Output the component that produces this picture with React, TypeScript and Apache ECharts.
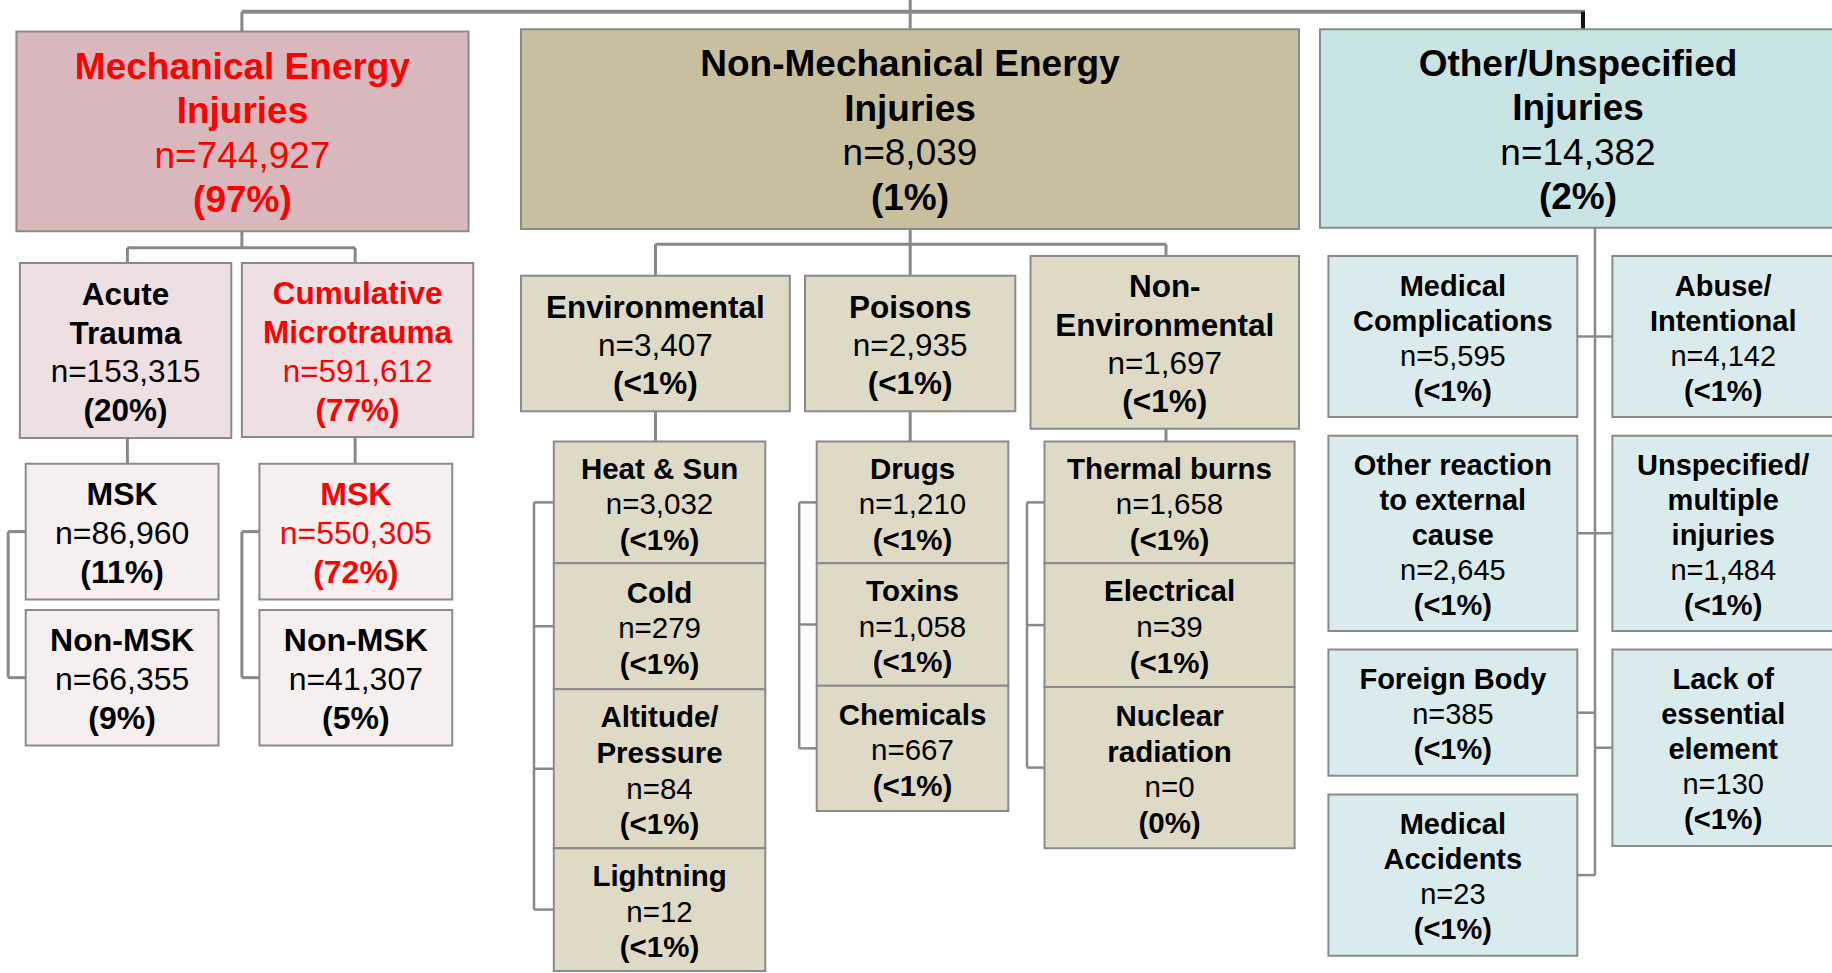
import React, { useEffect, useRef } from "react";
import * as echarts from "echarts";

// ---------------- DATA ----------------
const topLabels = ["Mechanical Energy\nInjuries", "Non-Mechanical Energy\nInjuries", "Other/Unspecified\nInjuries"];
const topCounts = [744927, 8039, 14382];
const topPcts = ["97%", "1%", "2%"];

const mechLabels = ["Acute\nTrauma", "Cumulative\nMicrotrauma"];
const mechCounts = [153315, 591612];
const mechPcts = ["20%", "77%"];

const acuteLabels = ["MSK", "Non-MSK"];
const acuteCounts = [86960, 66355];
const acutePcts = ["11%", "9%"];

const cumLabels = ["MSK", "Non-MSK"];
const cumCounts = [550305, 41307];
const cumPcts = ["72%", "5%"];

const nonMechLabels = ["Environmental", "Poisons", "Non-\nEnvironmental"];
const nonMechCounts = [3407, 2935, 1697];
const nonMechPcts = ["<1%", "<1%", "<1%"];

const envLabels = ["Heat & Sun", "Cold", "Altitude/\nPressure", "Lightning"];
const envCounts = [3032, 279, 84, 12];
const envPcts = ["<1%", "<1%", "<1%", "<1%"];

const poisonLabels = ["Drugs", "Toxins", "Chemicals"];
const poisonCounts = [1210, 1058, 667];
const poisonPcts = ["<1%", "<1%", "<1%"];

const nonEnvLabels = ["Thermal burns", "Electrical", "Nuclear\nradiation"];
const nonEnvCounts = [1658, 39, 0];
const nonEnvPcts = ["<1%", "<1%", "0%"];

const otherLabels = [
  "Medical\nComplications",
  "Abuse/\nIntentional",
  "Other reaction\nto external\ncause",
  "Unspecified/\nmultiple\ninjuries",
  "Foreign Body",
  "Lack of\nessential\nelement",
  "Medical\nAccidents",
];
const otherCounts = [5595, 4142, 2645, 1484, 385, 130, 23];
const otherPcts = ["<1%", "<1%", "<1%", "<1%", "<1%", "<1%", "<1%"];

// ---------------- LAYOUT (geometry, px) ----------------
type Box = [number, number, number, number];
const topBoxes: Box[] = [
  [16.4, 31.5, 468.5, 231.3],
  [521, 29.2, 1299, 229],
  [1320, 29.2, 1836, 227.8],
];
const mechBoxes: Box[] = [
  [19.9, 262.9, 231.3, 438],
  [241.9, 262.9, 473.2, 437],
];
const acuteBoxes: Box[] = [
  [25.7, 463.8, 218.5, 599.4],
  [25.7, 609.9, 218.5, 745.4],
];
const cumBoxes: Box[] = [
  [259.4, 463.8, 452.2, 599.4],
  [259.4, 609.9, 452.2, 745.4],
];
const nonMechBoxes: Box[] = [
  [521, 275.7, 789.8, 411.3],
  [805, 275.7, 1015.3, 411.3],
  [1030.5, 255.9, 1299, 428.8],
];
const envX = [553.8, 765.3];
const envY = [441.6, 563.2, 689.3, 848.2, 971];
const poisonX = [816.7, 1008.3];
const poisonY = [441.6, 563.2, 685.8, 810.9];
const nonEnvX = [1044.5, 1294.6];
const nonEnvY = [441.6, 563.2, 687, 848.2];
const otherBoxes: Box[] = [
  [1328.4, 255.9, 1577.3, 417.1],
  [1612.4, 255.9, 1834, 417.1],
  [1328.4, 435.8, 1577.3, 630.9],
  [1612.4, 435.8, 1834, 630.9],
  [1328.4, 649.6, 1577.3, 775.8],
  [1612.4, 649.6, 1834, 845.9],
  [1328.4, 794.5, 1577.3, 955.7],
];

const stackBoxes = (xs: number[], ys: number[]): Box[] =>
  ys.slice(0, -1).map((y, i) => [xs[0], y, xs[1], ys[i + 1]] as Box);

// ---------------- STYLES ----------------
const FONT = '"Liberation Sans", Arial, Helvetica, sans-serif';
const LINE = "#888888";
const BORDER = "#8a8a8a";
const RED = "#ff0000";
const C = {
  mechTop: "#d9b8bd",
  mechMid: "#eedfe2",
  mechLeaf: "#f6eff0",
  nmTop: "#c8bf9e",
  nmMid: "#dfdac6",
  otTop: "#c8e4e4",
  otMid: "#daebed",
};

const fmt = (n: number) => n.toLocaleString("en-US");

function node(
  box: Box,
  label: string,
  count: number,
  pct: string,
  fontSize: number,
  lineH: number,
  fill: string,
  color: string,
  dy = 1.5
): any[] {
  const [x0, y0, x1, y1] = box;
  const els: any[] = [
    {
      type: "rect",
      shape: { x: x0, y: y0, width: x1 - x0, height: y1 - y0 },
      style: { fill, stroke: BORDER, lineWidth: 2 },
      z: 10,
    },
  ];
  const lines: { t: string; w: string }[] = [
    ...label.split("\n").map((t) => ({ t, w: "bold" })),
    { t: "n=" + fmt(count), w: "normal" },
    { t: "(" + pct + ")", w: "bold" },
  ];
  const cx = (x0 + x1) / 2;
  const cy = (y0 + y1) / 2 + dy;
  lines.forEach((ln, i) => {
    els.push({
      type: "text",
      x: cx,
      y: cy + (i - (lines.length - 1) / 2) * lineH,
      z: 20,
      style: {
        text: ln.t,
        fill: color,
        fontFamily: FONT,
        fontSize,
        fontWeight: ln.w,
        align: "center",
        verticalAlign: "middle",
      },
    });
  });
  return els;
}

const seg = (x1: number, y1: number, x2: number, y2: number, w = 2.5, stroke = LINE) => ({
  type: "line",
  shape: { x1, y1, x2, y2 },
  style: { stroke, lineWidth: w },
  z: 5,
});

const mid = (b: Box) => (b[1] + b[3]) / 2;

function bracket(x: number, boxes: Box[], w = 2.5): any[] {
  const ys = boxes.map(mid);
  const els: any[] = [seg(x, ys[0], x, ys[ys.length - 1], w)];
  ys.forEach((y, i) => els.push(seg(x, y, boxes[i][0], y, w)));
  return els;
}

function buildElements(): any[] {
  const els: any[] = [];
  const envBoxes = stackBoxes(envX, envY);
  const poisonBoxes = stackBoxes(poisonX, poisonY);
  const nonEnvBoxes = stackBoxes(nonEnvX, nonEnvY);

  // top connectors
  els.push(seg(241.9, 11.7, 1585, 11.7, 4));
  els.push(seg(241.9, 11.7, 241.9, topBoxes[0][1], 3));
  els.push(seg(910.2, 0, 910.2, topBoxes[1][1], 3));
  els.push(seg(1583, 11.7, 1583, topBoxes[2][1], 4, "#111111"));

  // mechanical connectors
  const mx = [(mechBoxes[0][0] + mechBoxes[0][2]) / 2 + 1.8, (mechBoxes[1][0] + mechBoxes[1][2]) / 2 - 2.4];
  const myH = 247.7;
  els.push(seg(241.9, topBoxes[0][3], 241.9, myH, 3));
  els.push(seg(mx[0], myH, mx[1], myH, 3));
  els.push(seg(mx[0], myH, mx[0], mechBoxes[0][1], 3));
  els.push(seg(mx[1], myH, mx[1], mechBoxes[1][1], 3));
  els.push(seg(mx[0], mechBoxes[0][3], mx[0], acuteBoxes[0][1], 3));
  els.push(seg(mx[1], mechBoxes[1][3], mx[1], cumBoxes[0][1], 3));
  els.push(...bracket(8.2, acuteBoxes, 3));
  els.push(...bracket(241.9, cumBoxes, 3));

  // non-mechanical connectors
  const nx = [655.5, 910.2, 1166];
  const nyH = 244.2;
  els.push(seg(910.2, topBoxes[1][3], 910.2, nyH, 3));
  els.push(seg(nx[0], nyH, nx[2], nyH, 3));
  nx.forEach((x, i) => {
    els.push(seg(x, nyH, x, nonMechBoxes[i][1], 3));
  });
  els.push(seg(nx[0], nonMechBoxes[0][3], nx[0], envY[0], 3));
  els.push(seg(nx[1], nonMechBoxes[1][3], nx[1], poisonY[0], 3));
  els.push(seg(nx[2], nonMechBoxes[2][3], nx[2], nonEnvY[0], 3));
  els.push(...bracket(534, envBoxes, 2.5));
  els.push(...bracket(799.2, poisonBoxes, 2.5));
  els.push(...bracket(1027, nonEnvBoxes, 2.5));

  // other connectors
  const sx = 1595;
  els.push(seg(sx, topBoxes[2][3], sx, mid(otherBoxes[6]), 2.5));
  els.push(seg(otherBoxes[0][2], mid(otherBoxes[0]), otherBoxes[1][0], mid(otherBoxes[0]), 2.5));
  els.push(seg(otherBoxes[2][2], mid(otherBoxes[2]), otherBoxes[3][0], mid(otherBoxes[2]), 2.5));
  els.push(seg(otherBoxes[4][2], mid(otherBoxes[4]), sx, mid(otherBoxes[4]), 2.5));
  els.push(seg(sx, mid(otherBoxes[5]), otherBoxes[5][0], mid(otherBoxes[5]), 2.5));
  els.push(seg(otherBoxes[6][2], mid(otherBoxes[6]), sx, mid(otherBoxes[6]), 2.5));

  // top nodes
  const topFill = [C.mechTop, C.nmTop, C.otTop];
  const topColor = [RED, "#000000", "#000000"];
  topLabels.forEach((l, i) => els.push(...node(topBoxes[i], l, topCounts[i], topPcts[i], 37, 44.5, topFill[i], topColor[i])));

  // mechanical
  const mechColor = ["#000000", RED];
  mechLabels.forEach((l, i) => els.push(...node(mechBoxes[i], l, mechCounts[i], mechPcts[i], 31.5, 38.8, C.mechMid, mechColor[i])));
  acuteLabels.forEach((l, i) => els.push(...node(acuteBoxes[i], l, acuteCounts[i], acutePcts[i], 32, 39, C.mechLeaf, "#000000")));
  const cumColor = [RED, "#000000"];
  cumLabels.forEach((l, i) => els.push(...node(cumBoxes[i], l, cumCounts[i], cumPcts[i], 32, 39, C.mechLeaf, cumColor[i])));

  // non-mechanical
  nonMechLabels.forEach((l, i) => els.push(...node(nonMechBoxes[i], l, nonMechCounts[i], nonMechPcts[i], 31.5, 38.3, C.nmMid, "#000000")));
  envLabels.forEach((l, i) => els.push(...node(envBoxes[i], l, envCounts[i], envPcts[i], 29.5, 35.7, C.nmMid, "#000000")));
  poisonLabels.forEach((l, i) => els.push(...node(poisonBoxes[i], l, poisonCounts[i], poisonPcts[i], 29.5, 35.7, C.nmMid, "#000000")));
  nonEnvLabels.forEach((l, i) => els.push(...node(nonEnvBoxes[i], l, nonEnvCounts[i], nonEnvPcts[i], 29.5, 35.7, C.nmMid, "#000000")));

  // other
  otherLabels.forEach((l, i) => els.push(...node(otherBoxes[i], l, otherCounts[i], otherPcts[i], 29, 35, C.otMid, "#000000")));

  return els;
}

export default function App() {
  const ref = useRef<HTMLDivElement>(null);
  useEffect(() => {
    document.body.style.margin = "0";
    if (!ref.current) return;
    const chart = echarts.init(ref.current, undefined, { renderer: "svg" });
    chart.setOption({
      animation: false,
      backgroundColor: "#ffffff",
      graphic: { elements: buildElements() },
    });
    return () => chart.dispose();
  }, []);
  return (
    <div
      ref={ref}
      style={{ position: "fixed", left: 0, top: 0, width: 1832, height: 973, background: "#ffffff" }}
    />
  );
}
